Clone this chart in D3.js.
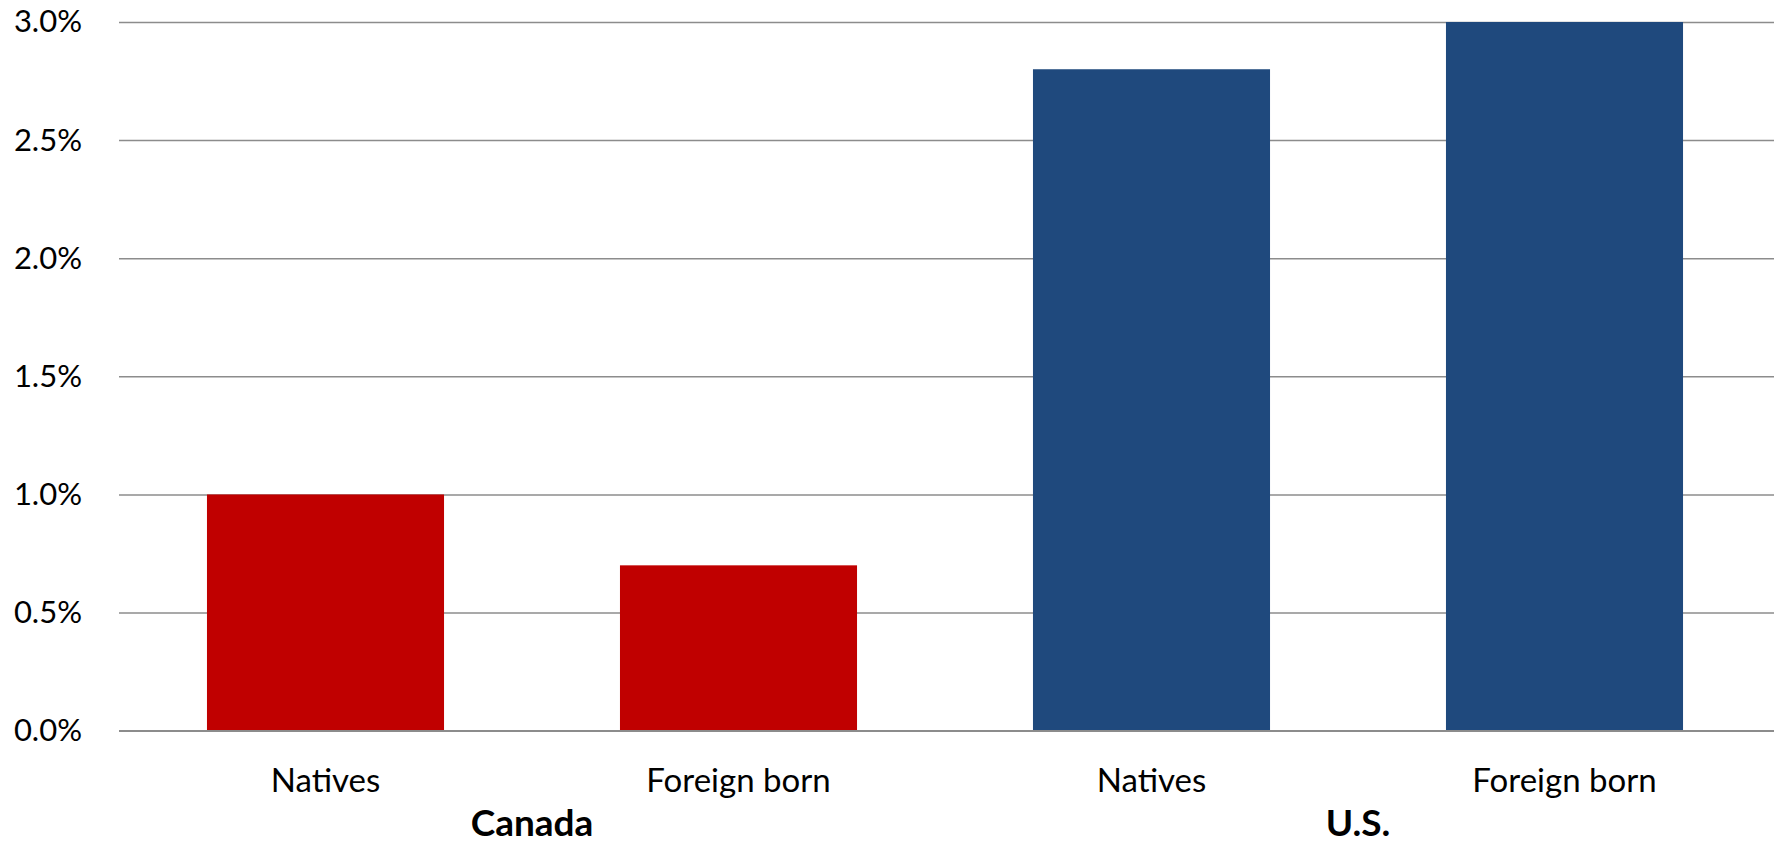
<!DOCTYPE html>
<html>
<head>
<meta charset="utf-8">
<script src="https://cdn.jsdelivr.net/npm/d3@7"></script>
<style>
  html, body { margin: 0; padding: 0; background: #fff; }
  svg { display: block; }
  text { font-family: Lato, "Open Sans", sans-serif; fill: #000; }
</style>
</head>
<body>
<svg id="chart" width="1777" height="845"></svg>
<script>
const categories = ["Canada|Natives", "Canada|Foreign born", "U.S.|Natives", "U.S.|Foreign born"];
const barLabels = ["Natives", "Foreign born", "Natives", "Foreign born"];
const groups = ["Canada", "U.S."];
const groupOf = ["Canada", "Canada", "U.S.", "U.S."];
const values = [0.010, 0.007, 0.028, 0.030];
const yTicks = [0, 0.005, 0.010, 0.015, 0.020, 0.025, 0.030];
const groupColors = { "Canada": "#C00000", "U.S.": "#1F497D" };

const svg = d3.select("#chart");
const x0 = 119, x1 = 1771, gridRight = 1774;
const y = d3.scaleLinear().domain([0, 0.03]).range([730.7, 22]);
const x = d3.scaleBand().domain(categories).range([x0, x1])
  .paddingInner(0.426).paddingOuter(0.213);

// gridlines via axis
const yAxis = d3.axisLeft(y).tickValues(yTicks).tickFormat(d3.format(".1%"))
  .tickSize(-(gridRight - x0)).tickPadding(37);
const gy = svg.append("g").attr("transform", `translate(${x0},0)`).call(yAxis);
gy.select(".domain").remove();
gy.selectAll(".tick line").attr("stroke", "#8c8c8c").attr("stroke-width", 1.5);
gy.selectAll(".tick text").attr("font-size", 31).attr("fill", "#000")
  .attr("font-family", "Lato, sans-serif");

// bars
svg.append("g").selectAll("rect").data(categories).join("rect")
  .attr("x", d => x(d))
  .attr("width", x.bandwidth())
  .attr("y", (d, i) => y(values[i]))
  .attr("height", (d, i) => y(0) - y(values[i]))
  .attr("fill", (d, i) => groupColors[groupOf[i]]);

// redraw baseline on top
svg.append("line").attr("x1", x0).attr("x2", gridRight)
  .attr("y1", y(0)).attr("y2", y(0))
  .attr("stroke", "#8c8c8c").attr("stroke-width", 1.5);

// category labels
svg.append("g").selectAll("text").data(categories).join("text")
  .attr("x", d => x(d) + x.bandwidth() / 2)
  .attr("y", 791.5)
  .attr("text-anchor", "middle")
  .attr("font-size", 33)
  .text((d, i) => barLabels[i]);

// group labels
svg.append("g").selectAll("text").data(groups).join("text")
  .attr("x", g => {
    const cs = categories.filter((c, i) => groupOf[i] === g);
    const a = x(cs[0]) + x.bandwidth() / 2, b = x(cs[cs.length - 1]) + x.bandwidth() / 2;
    return (a + b) / 2;
  })
  .attr("y", 836)
  .attr("text-anchor", "middle")
  .attr("font-size", 37)
  .attr("font-weight", "bold")
  .text(g => g);
</script>
</body>
</html>
